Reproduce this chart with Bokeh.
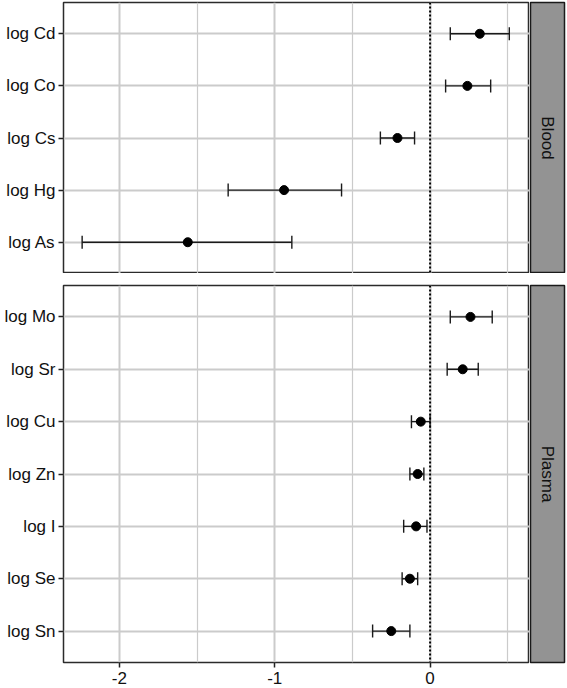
import math
from bokeh.plotting import figure
from bokeh.models import Range1d, FactorRange, FixedTicker, Whisker, TeeHead, ColumnDataSource, Span
from bokeh.layouts import column, row
from bokeh.embed import file_html
from bokeh.resources import INLINE
from bokeh.core.properties import value

# ---------------- data ----------------
panels = ["Blood", "Plasma"]

blood_elems = ["log Cd", "log Co", "log Cs", "log Hg", "log As"]
blood_est = [0.32, 0.24, -0.21, -0.94, -1.56]
blood_lo = [0.13, 0.10, -0.32, -1.30, -2.24]
blood_hi = [0.51, 0.39, -0.10, -0.57, -0.89]

plasma_elems = ["log Mo", "log Sr", "log Cu", "log Zn", "log I", "log Se", "log Sn"]
plasma_est = [0.26, 0.21, -0.06, -0.08, -0.09, -0.13, -0.25]
plasma_lo = [0.13, 0.11, -0.12, -0.13, -0.17, -0.18, -0.37]
plasma_hi = [0.40, 0.31, 0.00, -0.04, -0.02, -0.08, -0.13]

x_ticks = [-2, -1, 0]
x_tick_labels = ["-2", "-1", "0"]
x_minor = [-1.5, -0.5, 0.5]
x_lim = (-2.36, 0.64)

FONT = "Liberation Sans"
GRID = "#cbcbcb"
STRIP = "#939393"


def make_panel(elems, est, lo, hi, height, b_top, b_bottom, show_x):
    cats = list(reversed(elems))
    p = figure(
        width=529, height=height,
        x_range=Range1d(*x_lim),
        y_range=FactorRange(factors=cats, range_padding=0.1, range_padding_units="absolute"),
        toolbar_location=None, output_backend="svg",
        min_border_left=63, min_border_right=0,
        min_border_top=b_top, min_border_bottom=b_bottom,
    )
    p.background_fill_color = "white"
    p.border_fill_color = "white"
    p.outline_line_color = "#2b2b2b"
    p.outline_line_width = 1.5
    p.outline_line_alpha = 1.0

    ticker = FixedTicker(ticks=x_ticks, minor_ticks=x_minor)
    p.xaxis.ticker = ticker
    p.xgrid.ticker = ticker
    p.xgrid.grid_line_color = GRID
    p.xgrid.grid_line_width = 2
    p.xgrid.minor_grid_line_color = GRID
    p.xgrid.minor_grid_line_width = 1.2
    p.ygrid.grid_line_color = GRID
    p.ygrid.grid_line_width = 2

    p.yaxis.axis_line_color = None
    p.yaxis.major_tick_line_color = "#222222"
    p.yaxis.major_tick_line_width = 1.5
    p.yaxis.major_tick_out = 5
    p.yaxis.major_tick_in = 0
    p.yaxis.major_label_standoff = 3
    p.yaxis.major_label_text_font = FONT
    p.yaxis.major_label_text_font_size = "17px"
    p.yaxis.major_label_text_color = "#111111"

    if show_x:
        p.xaxis.axis_line_color = None
        p.xaxis.major_tick_line_color = "#222222"
        p.xaxis.major_tick_line_width = 1.5
        p.xaxis.major_tick_out = 5
        p.xaxis.major_tick_in = 0
        p.xaxis.minor_tick_line_color = None
        p.xaxis.major_label_standoff = 4
        p.xaxis.major_label_text_font = FONT
        p.xaxis.major_label_text_font_size = "17px"
        p.xaxis.major_label_text_color = "#111111"
        p.xaxis.major_label_overrides = {t: lab for t, lab in zip(x_ticks, x_tick_labels)}
    else:
        p.xaxis.visible = False

    p.add_layout(Span(location=0, dimension="height", line_color="black",
                      line_width=2, line_dash="2 2"))

    src = ColumnDataSource(dict(cat=elems, est=est, lo=lo, hi=hi))
    w = Whisker(base="cat", lower="lo", upper="hi", dimension="width", source=src,
                line_color="#1a1a1a", line_width=1.4,
                lower_head=TeeHead(size=13, line_color="#1a1a1a", line_width=1.4),
                upper_head=TeeHead(size=13, line_color="#1a1a1a", line_width=1.4))
    p.add_layout(w)
    p.scatter(x="est", y="cat", source=src, size=9, color="black")
    return p


def make_strip(label, height, b_top, b_bottom):
    s = figure(width=37, height=height, x_range=Range1d(0, 1), y_range=Range1d(0, 1),
               toolbar_location=None, output_backend="svg",
               min_border_left=1, min_border_right=2,
               min_border_top=b_top, min_border_bottom=b_bottom)
    s.axis.visible = False
    s.grid.visible = False
    s.background_fill_color = STRIP
    s.border_fill_color = "white"
    s.outline_line_color = "#1a1a1a"
    s.outline_line_width = 1.5
    s.outline_line_alpha = 1.0
    s.text(x=[0.5], y=[0.5], text=[label], angle=-math.pi / 2,
           text_align="center", text_baseline="middle",
           text_font=value(FONT), text_font_size="17px", text_color="#111111")
    return s


p1 = make_panel(blood_elems, blood_est, blood_lo, blood_hi, 273, 2, 0, False)
s1 = make_strip(panels[0], 273, 2, 0)
p2 = make_panel(plasma_elems, plasma_est, plasma_lo, plasma_hi, 415, 12, 26, True)
s2 = make_strip(panels[1], 415, 12, 26)

layout = column(row(p1, s1, spacing=0), row(p2, s2, spacing=0), spacing=0)

open("out.html", "w").write(file_html(layout, INLINE))
